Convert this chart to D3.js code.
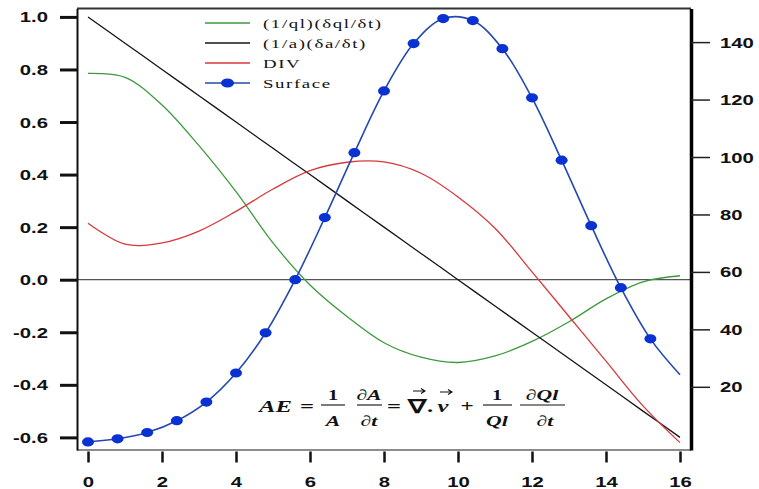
<!DOCTYPE html>
<html>
<head>
<meta charset="utf-8">
<script src="https://cdn.jsdelivr.net/npm/d3@7"></script>
<style>
  body { margin: 0; background: #fff; }
  svg { display: block; }
</style>
</head>
<body>
<div id="chart"></div>
<script>
// values
const xs = [0, 1, 2, 3, 4, 5, 6, 7, 8, 9, 10, 11, 12, 13, 14, 15, 16];
const qlRate = [0.785, 0.77, 0.665, 0.51, 0.335, 0.14, -0.02, -0.14, -0.24, -0.295, -0.315, -0.29, -0.235, -0.16, -0.073, -0.008, 0.015];
const aRate = [1.0, 0.9, 0.8, 0.7, 0.6, 0.5, 0.4, 0.3, 0.2, 0.1, 0.0, -0.1, -0.2, -0.3, -0.4, -0.5, -0.6];
const divVals = [0.215, 0.135, 0.14, 0.185, 0.26, 0.345, 0.415, 0.447, 0.448, 0.405, 0.315, 0.196, 0.03, -0.14, -0.31, -0.48, -0.62];
const surfX = [0, 0.8, 1.6, 2.4, 3.2, 4.0, 4.8, 5.6, 6.4, 7.2, 8.0, 8.8, 9.6, 10.4, 11.2, 12.0, 12.8, 13.6, 14.4, 15.2, 16];
const surfVals = [0.8, 1.9, 4.1, 8.2, 14.7, 24.8, 38.8, 57.3, 78.9, 101.5, 123, 139.5, 148.2, 147.5, 137.7, 120.6, 98.9, 76.1, 54.5, 36.7, 24.2];
const nMarkers = 20; // last surface point has no marker

const leftTicks = [1.0, 0.8, 0.6, 0.4, 0.2, 0.0, -0.2, -0.4, -0.6];
const leftLabels = ["1.0", "0.8", "0.6", "0.4", "0.2", "0.0", "-0.2", "-0.4", "-0.6"];
const rightTicks = [20, 40, 60, 80, 100, 120, 140];
const bottomTicks = [0, 2, 4, 6, 8, 10, 12, 14, 16];

const legendNames = ["(1/ql)(\u03b4ql/\u03b4t)", "(1/a)(\u03b4a/\u03b4t)", "DIV", "Surface"];
const colGreen = "#3c9a3c", colBlack = "#151515", colRed = "#d8383c", colBlue = "#2448b0", colDot = "#0a32d2";

const W = 759, H = 489;
const frame = { left: 77, right: 691, top: 8.5, bottom: 450 };
const stretch = 1.45; // the picture is stretched sideways

const svg = d3.select("#chart").append("svg")
	.attr("width", W)
	.attr("height", H);

const x = d3.scaleLinear().domain([0, 16]).range([88, 680]);
const yL = d3.scaleLinear().domain([-0.648, 1.032]).range([frame.bottom, frame.top]);
const yR = d3.scaleLinear().domain([-2, 151.7]).range([frame.bottom, frame.top]);

// frame top & bottom
svg.append("line")
	.attr("x1", frame.left).attr("x2", frame.right)
	.attr("y1", frame.top).attr("y2", frame.top)
	.attr("stroke", "#333").attr("stroke-width", 2);
svg.append("line")
	.attr("x1", frame.left).attr("x2", frame.right)
	.attr("y1", frame.bottom).attr("y2", frame.bottom)
	.attr("stroke", "#666").attr("stroke-width", 1.6);

// zero line
svg.append("line")
	.attr("x1", frame.left).attr("x2", frame.right)
	.attr("y1", yL(0)).attr("y2", yL(0))
	.attr("stroke", "#555").attr("stroke-width", 1.3);

// left axis
const leftAxis = svg.append("g")
	.attr("transform", `translate(${frame.left},0)`)
	.call(d3.axisLeft(yL).tickValues(leftTicks).tickSize(17).tickSizeOuter(0)
		.tickFormat((d, i) => leftLabels[i]));
leftAxis.select(".domain").attr("stroke", "#111").attr("stroke-width", 2);
leftAxis.selectAll(".tick line").attr("stroke", "#111").attr("stroke-width", 3);
leftAxis.selectAll(".tick text")
	.attr("x", null).attr("dy", null)
	.attr("transform", `translate(-29,5) scale(${stretch},1)`)
	.style("font", "bold 14px 'Liberation Sans', Arial, sans-serif")
	.attr("fill", "#111");

// right axis
const rightAxis = svg.append("g")
	.attr("transform", `translate(${frame.right},0)`)
	.call(d3.axisRight(yR).tickValues(rightTicks).tickSize(19).tickSizeOuter(0));
rightAxis.select(".domain").attr("stroke", "#000").attr("stroke-width", 3.5);
rightAxis.selectAll(".tick line").attr("stroke", "#222").attr("stroke-width", 1.5);
rightAxis.selectAll(".tick text")
	.attr("x", null).attr("dy", null)
	.attr("transform", `translate(29,5) scale(${stretch},1)`)
	.style("font", "bold 14px 'Liberation Sans', Arial, sans-serif")
	.attr("fill", "#111");

// bottom axis
const bottomAxis = svg.append("g")
	.attr("transform", `translate(0,${frame.bottom + 1.5})`)
	.call(d3.axisBottom(x).tickValues(bottomTicks).tickSize(11).tickSizeOuter(0));
bottomAxis.select(".domain").remove();
bottomAxis.selectAll(".tick line").attr("stroke", "#111").attr("stroke-width", 2.5);
bottomAxis.selectAll(".tick text")
	.attr("y", null).attr("dy", null)
	.attr("transform", `translate(0,35.5) scale(${stretch},1)`)
	.style("font", "bold 14px 'Liberation Sans', Arial, sans-serif")
	.attr("fill", "#111");

// lines on the left axis
const lineL = d3.line()
	.x((d, i) => x(xs[i]))
	.y(d => yL(d))
	.curve(d3.curveCatmullRom);

[[qlRate, colGreen], [aRate, colBlack], [divVals, colRed]].forEach(([vals, c]) => {
	svg.append("path")
		.datum(vals)
		.attr("d", lineL)
		.attr("fill", "none")
		.attr("stroke", c)
		.attr("stroke-width", 1.3);
});

// surface on the right axis
const lineR = d3.line()
	.x((d, i) => x(surfX[i]))
	.y(d => yR(d))
	.curve(d3.curveCatmullRom);

svg.append("path")
	.datum(surfVals)
	.attr("d", lineR)
	.attr("fill", "none")
	.attr("stroke", colBlue)
	.attr("stroke-width", 1.6);

svg.append("g")
	.selectAll("ellipse")
	.data(surfVals.slice(0, nMarkers))
	.enter()
	.append("ellipse")
	.attr("cx", (d, i) => x(surfX[i]))
	.attr("cy", d => yR(d))
	.attr("rx", 6)
	.attr("ry", 4.6)
	.attr("fill", colDot);

// legend
const legCols = [colGreen, colBlack, colRed, colBlue];
const legend = svg.append("g").attr("id", "legend");
legendNames.forEach((name, i) => {
	const ly = 23 + i * 20;
	legend.append("line")
		.attr("x1", 205).attr("x2", 250)
		.attr("y1", ly).attr("y2", ly)
		.attr("stroke", legCols[i]).attr("stroke-width", 1.3);
	if (i === 3) {
		legend.append("ellipse")
			.attr("cx", 227.5).attr("cy", ly)
			.attr("rx", 6.5).attr("ry", 4.6)
			.attr("fill", colDot);
	}
	legend.append("text")
		.attr("transform", `translate(263,${ly + 4.5}) scale(${stretch},1)`)
		.style("font", "13px 'Liberation Serif', 'Times New Roman', serif")
		.style("letter-spacing", "1.1px")
		.attr("fill", "#111")
		.text(name);
});

// equation
const eq = svg.append("g").attr("id", "equation");
function eqText(str, cx, by, size, italic) {
	eq.append("text")
		.attr("transform", `translate(${cx},${by}) scale(${stretch},1)`)
		.attr("text-anchor", "middle")
		.style("font", `${italic ? "italic " : ""}bold ${size}px 'Liberation Serif', 'Times New Roman', serif`)
		.attr("fill", "#111")
		.text(str);
}
function bar(x1, x2) {
	eq.append("line")
		.attr("x1", x1).attr("x2", x2)
		.attr("y1", 405).attr("y2", 405)
		.attr("stroke", "#111").attr("stroke-width", 1.1);
}
function arrow(cx, ay) {
	eq.append("path")
		.attr("d", `M${cx - 6},${ay} L${cx + 5},${ay} M${cx + 2},${ay - 2.5} L${cx + 6},${ay} L${cx + 2},${ay + 2.5}`)
		.attr("fill", "none")
		.attr("stroke", "#111")
		.attr("stroke-width", 1.1);
}

eqText("AE", 275.5, 412, 17, true);
eqText("=", 307, 412, 17, false);
eqText("1", 333, 400, 14, false);
bar(321, 345);
eqText("A", 333, 426, 15, true);
eqText("\u2202A", 369, 400, 15, true);
bar(357, 382);
eqText("\u2202t", 369, 426, 15, true);
eqText("=", 394, 412, 17, false);
eqText("\u2207", 417, 413, 19, false);
arrow(419, 391);
eqText(".", 430, 412, 17, false);
eqText("v", 443, 412, 17, true);
arrow(446, 392);
eqText("+", 467, 412, 16, false);
eqText("1", 497, 400, 14, false);
bar(483, 512);
eqText("Ql", 497, 426, 15, true);
eqText("\u2202Ql", 542, 400, 15, true);
bar(520, 565);
eqText("\u2202t", 545, 426, 15, true);
</script>
</body>
</html>
